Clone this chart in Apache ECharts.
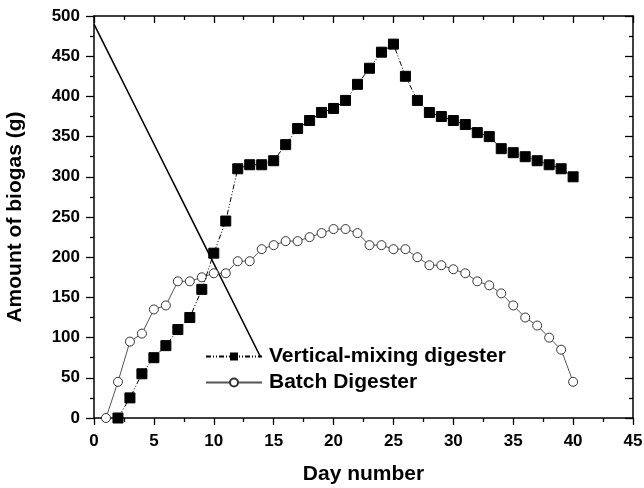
<!DOCTYPE html>
<html>
<head>
<meta charset="utf-8">
<script src="https://cdn.jsdelivr.net/npm/echarts@6/dist/echarts.min.js"></script>
<style>
  html, body { margin: 0; padding: 0; background: #fff; }
  #chart { width: 644px; height: 488px; }
</style>
</head>
<body>
<div id="chart"></div>
<script>
// days and biogas amounts (g)
const mixDays = [2, 3, 4, 5, 6, 7, 8, 9, 10, 11, 12, 13, 14, 15, 16, 17, 18, 19, 20, 21,
    22, 23, 24, 25, 26, 27, 28, 29, 30, 31, 32, 33, 34, 35, 36, 37, 38, 39, 40];
const mixGas = [0, 25, 55, 75, 90, 110, 125, 160, 205, 245, 310, 315, 315, 320, 340, 360, 370, 380, 385, 395,
    415, 435, 455, 465, 425, 395, 380, 375, 370, 365, 355, 350, 335, 330, 325, 320, 315, 310, 300];

const batchDays = [1, 2, 3, 4, 5, 6, 7, 8, 9, 10, 11, 12, 13, 14, 15, 16, 17, 18, 19, 20,
    21, 22, 23, 24, 25, 26, 27, 28, 29, 30, 31, 32, 33, 34, 35, 36, 37, 38, 39, 40];
const batchGas = [0, 45, 95, 105, 135, 140, 170, 170, 175, 180, 180, 195, 195, 210, 215, 220, 220, 225, 230, 235,
    235, 230, 215, 215, 210, 210, 200, 190, 190, 185, 180, 170, 165, 155, 140, 125, 115, 100, 85, 45];

// stray straight line in the original figure
const strayX = [0, 13.9];
const strayY = [490, 76];

const seriesNames = ['Vertical-mixing digester', 'Batch Digester'];

const font = 'Arial, "Liberation Sans", sans-serif';

function zip(xs, ys) {
    return xs.map((x, i) => [x, ys[i]]);
}

const baseAxis = {
    type: 'value',
    axisLine: {show: true, onZero: false, lineStyle: {color: '#000', width: 1.5}},
    splitLine: {show: false},
    minorSplitLine: {show: false}
};
const tick = {color: '#000', width: 1.3};
const labelFont = {fontFamily: font, fontWeight: 'bold', fontSize: 17, color: '#000'};
const titleFont = {fontFamily: font, fontWeight: 'bold', fontSize: 21, color: '#000'};

const chart = echarts.init(document.getElementById('chart'));

chart.setOption({
    animation: false,
    grid: {left: 94, right: 11, top: 16, bottom: 70, containLabel: false, outerBoundsMode: 'none'},
    legend: {
        orient: 'vertical',
        left: 205,
        top: 346,
        padding: 0,
        itemWidth: 56,
        itemHeight: 10,
        itemGap: 5,
        data: seriesNames,
        textStyle: Object.assign({padding: [0, 0, 0, 2]}, titleFont)
    },
    xAxis: [
        Object.assign({}, baseAxis, {
            min: 0, max: 45, interval: 5,
            position: 'bottom',
            name: 'Day number',
            nameLocation: 'middle',
            nameGap: 46,
            nameTextStyle: titleFont,
            axisTick: {show: true, inside: false, length: 7, lineStyle: tick},
            minorTick: {show: true, splitNumber: 2, length: 4, lineStyle: tick},
            axisLabel: Object.assign({margin: 15}, labelFont)
        }),
        Object.assign({}, baseAxis, {
            min: 0, max: 45, interval: 5,
            position: 'top',
            axisTick: {show: true, inside: true, length: 7, lineStyle: tick},
            minorTick: {show: true, splitNumber: 2, length: 4, lineStyle: tick},
            axisLabel: {show: false}
        })
    ],
    yAxis: [
        Object.assign({}, baseAxis, {
            min: 0, max: 500, interval: 50,
            position: 'left',
            name: 'Amount of biogas (g)',
            nameLocation: 'middle',
            nameGap: 68,
            nameTextStyle: titleFont,
            axisTick: {show: true, inside: false, length: 8, lineStyle: tick},
            minorTick: {show: true, splitNumber: 2, length: 4, lineStyle: tick},
            axisLabel: Object.assign({margin: 14}, labelFont)
        }),
        Object.assign({}, baseAxis, {
            min: 0, max: 500, interval: 50,
            position: 'right',
            axisTick: {show: true, inside: true, length: 8, lineStyle: tick},
            minorTick: {show: true, splitNumber: 2, length: 4, lineStyle: tick},
            axisLabel: {show: false}
        })
    ],
    series: [
        {
            name: 'stray',
            type: 'line',
            data: zip(strayX, strayY),
            showSymbol: false,
            silent: true,
            lineStyle: {color: '#000', width: 1.5},
            z: 1
        },
        {
            name: seriesNames[0],
            type: 'line',
            data: zip(mixDays, mixGas),
            symbol: 'rect',
            symbolSize: 10,
            itemStyle: {color: '#000', borderColor: '#000'},
            lineStyle: {color: '#000', width: 1, type: [5, 2, 1, 2, 1, 2]},
            z: 3
        },
        {
            name: seriesNames[1],
            type: 'line',
            data: zip(batchDays, batchGas),
            symbol: 'circle',
            symbolSize: 9,
            itemStyle: {color: '#fff', borderColor: '#333', borderWidth: 1},
            lineStyle: {color: '#555', width: 1},
            z: 2
        }
    ]
});
</script>
</body>
</html>
